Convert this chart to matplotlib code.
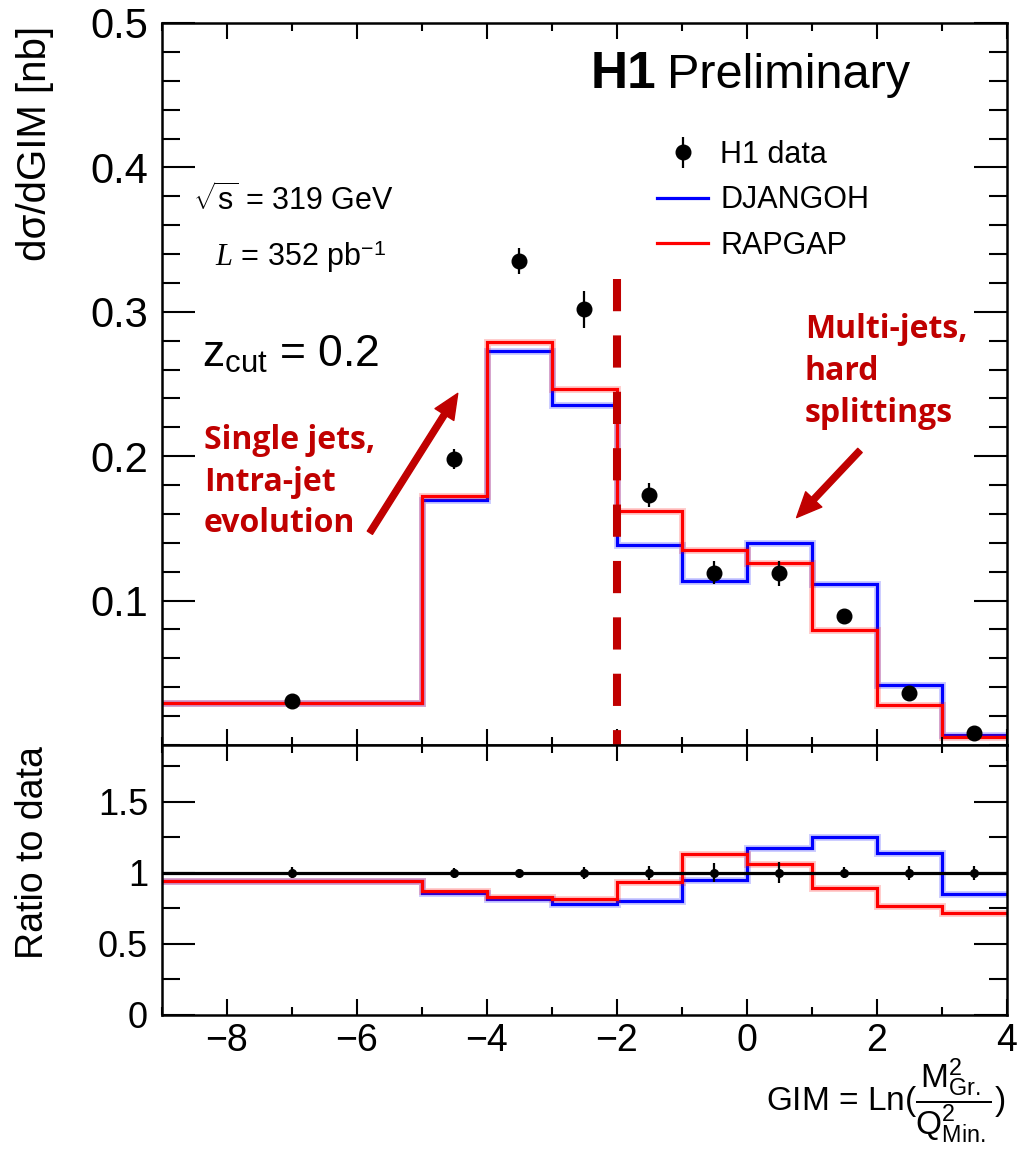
import matplotlib.pyplot as plt
from matplotlib.ticker import MultipleLocator, FixedLocator
import numpy as np

plt.rcParams['font.family'] = ['Liberation Sans', 'DejaVu Sans']
plt.rcParams['mathtext.fontset'] = 'custom'
plt.rcParams['mathtext.rm'] = 'Liberation Sans'
plt.rcParams['mathtext.it'] = 'Liberation Serif:italic'
plt.rcParams['mathtext.bf'] = 'Liberation Sans:bold'

# GIM binning
bin_edges = [-9, -5, -4, -3, -2, -1, 0, 1, 2, 3, 4]
bin_centres = [-7, -4.5, -3.5, -2.5, -1.5, -0.5, 0.5, 1.5, 2.5, 3.5]

# cross sections [nb]
h1_data = [0.0308, 0.198, 0.335, 0.3016, 0.173, 0.1192, 0.1188, 0.0891, 0.0363, 0.0081]
h1_err = [0.0012, 0.007, 0.009, 0.013, 0.0085, 0.008, 0.0087, 0.0035, 0.0018, 0.0004]
djangoh = [0.0291, 0.1694, 0.2727, 0.2356, 0.1384, 0.1134, 0.1398, 0.1116, 0.0414, 0.0069]
rapgap = [0.0290, 0.1724, 0.2790, 0.2463, 0.1620, 0.1350, 0.1260, 0.0796, 0.0278, 0.0058]

gim_cut = -2
dark_red = '#c00000'

W, H = 1020, 1152


def fpos(x, y):
    # pixel position (from top left) -> figure fraction
    return x / W, 1 - y / H


fig = plt.figure(figsize=(W / 100, H / 100), dpi=100)
ax = fig.add_axes([162 / W, 1 - 745 / H, 845 / W, 722 / H])
axr = fig.add_axes([162 / W, 1 - 1015 / H, 845 / W, 270 / H])

# main panel
for vals, col in [(djangoh, '#0000ff'), (rapgap, '#ff0000')]:
    ax.stairs(vals, bin_edges, baseline=None, color=col, lw=5, alpha=0.2)
    ax.stairs(vals, bin_edges, baseline=None, color=col, lw=2.3)
dat = ax.errorbar(bin_centres, h1_data, yerr=h1_err, fmt='o', color='black',
                  ms=10.5, elinewidth=1.6, capsize=0, zorder=5)

ax.plot([gim_cut, gim_cut], [0.3227, -0.007], color=dark_red, lw=5.8,
        dashes=(4, 3), clip_on=False, zorder=6)

ax.set_xlim(-9, 4)
ax.set_ylim(0, 0.5)
ax.yaxis.set_major_locator(FixedLocator([0.1, 0.2, 0.3, 0.4, 0.5]))
ax.yaxis.set_minor_locator(MultipleLocator(0.02))
ax.xaxis.set_major_locator(MultipleLocator(2))
ax.xaxis.set_minor_locator(MultipleLocator(1))
ax.tick_params(which='both', direction='in', top=True, right=True, labelbottom=False, width=1.5)
ax.tick_params(axis='y', which='major', length=24, labelsize=30, pad=10)
ax.tick_params(axis='y', which='minor', length=13)
ax.tick_params(axis='x', which='major', length=11.5)
ax.tick_params(axis='x', which='minor', length=6)
for s in ax.spines.values():
    s.set_linewidth(1.8)

# ratio panel
data_arr = np.array(h1_data)
axr.axhline(1, color='black', lw=2.3, zorder=4)
for vals, col in [(djangoh, '#0000ff'), (rapgap, '#ff0000')]:
    rat = np.array(vals) / data_arr
    axr.stairs(rat, bin_edges, baseline=None, color=col, lw=5, alpha=0.2)
    axr.stairs(rat, bin_edges, baseline=None, color=col, lw=2.3)
axr.errorbar(bin_centres, np.ones(len(h1_data)), yerr=np.array(h1_err) / data_arr,
             fmt='o', color='black', ms=5.5, elinewidth=1.6, capsize=0, zorder=5)
axr.set_xlim(-9, 4)
axr.set_ylim(0, 1.9)
axr.yaxis.set_major_locator(FixedLocator([0, 0.5, 1, 1.5]))
axr.yaxis.set_major_formatter(plt.FuncFormatter(lambda v, p: f'{v:g}'))
axr.yaxis.set_minor_locator(MultipleLocator(0.25))
axr.xaxis.set_major_locator(MultipleLocator(2))
axr.xaxis.set_minor_locator(MultipleLocator(1))
axr.tick_params(which='both', direction='in', top=True, right=True, width=1.5)
axr.tick_params(axis='y', which='major', length=24, labelsize=26, pad=10)
axr.tick_params(axis='y', which='minor', length=13)
axr.tick_params(axis='x', which='major', length=11.5, labelsize=27, pad=6)
axr.tick_params(axis='x', which='minor', length=6)
for s in axr.spines.values():
    s.set_linewidth(1.8)

# axis titles
fig.text(*fpos(35, 143), 'dσ/dGIM [nb]', rotation=90, ha='center', va='center', fontsize=29)
fig.text(*fpos(33, 853), 'Ratio to data', rotation=90, ha='center', va='center', fontsize=27)
fig.text(*fpos(1005, 1101),
         r'GIM = Ln($\dfrac{\mathrm{M}^{2}_{\mathrm{Gr.}}}{\mathrm{Q}^{2}_{\mathrm{Min.}}}$)',
         ha='right', va='center', fontsize=24)

# labels inside plot
fig.text(*fpos(656, 75), 'H1', ha='right', va='center', fontsize=37, fontweight='bold')
fig.text(*fpos(667, 75), 'Preliminary', ha='left', va='center', fontsize=35)
fig.text(*fpos(193, 200), r'$\sqrt{\mathrm{s}}$ = 319 GeV', ha='left', va='center', fontsize=22)
fig.text(*fpos(215, 257), r'$L$ = 352 pb$^{\mathrm{-1}}$', ha='left', va='center', fontsize=22)
fig.text(*fpos(202, 355), r'$\mathrm{z}_{\mathrm{cut}}$ = 0.2', ha='left', va='center', fontsize=32)

ax.legend([dat, plt.Line2D([], [], color='#0000ff', lw=2.3),
           plt.Line2D([], [], color='#ff0000', lw=2.3)],
          ['H1 data', 'DJANGOH', 'RAPGAP'],
          loc='upper left', bbox_to_anchor=(0.586, 0.838), frameon=False,
          fontsize=22, borderpad=0, borderaxespad=0, handlelength=1.67,
          handletextpad=0.4, labelspacing=0.5)

# annotations
fig.text(*fpos(204, 424), 'Single jets,\nIntra-jet\nevolution', ha='left', va='top',
         fontsize=23, fontweight='bold', color=dark_red, family='Open Sans', linespacing=1.35)
fig.text(*fpos(805, 313), 'Multi-jets,\nhard\nsplittings', ha='left', va='top',
         fontsize=23, fontweight='bold', color=dark_red, family='Open Sans', linespacing=1.35)

arrow_kw = dict(arrowstyle='simple,head_length=0.9,head_width=0.8,tail_width=0.22',
                color=dark_red, mutation_scale=20, shrinkA=0, shrinkB=0)
ax.annotate('', xy=(0.350, 0.487), xytext=(0.246, 0.294), xycoords='axes fraction',
            arrowprops=arrow_kw)
ax.annotate('', xy=(0.751, 0.315), xytext=(0.826, 0.408), xycoords='axes fraction',
            arrowprops=arrow_kw)

fig.savefig('out.png', dpi=100)
